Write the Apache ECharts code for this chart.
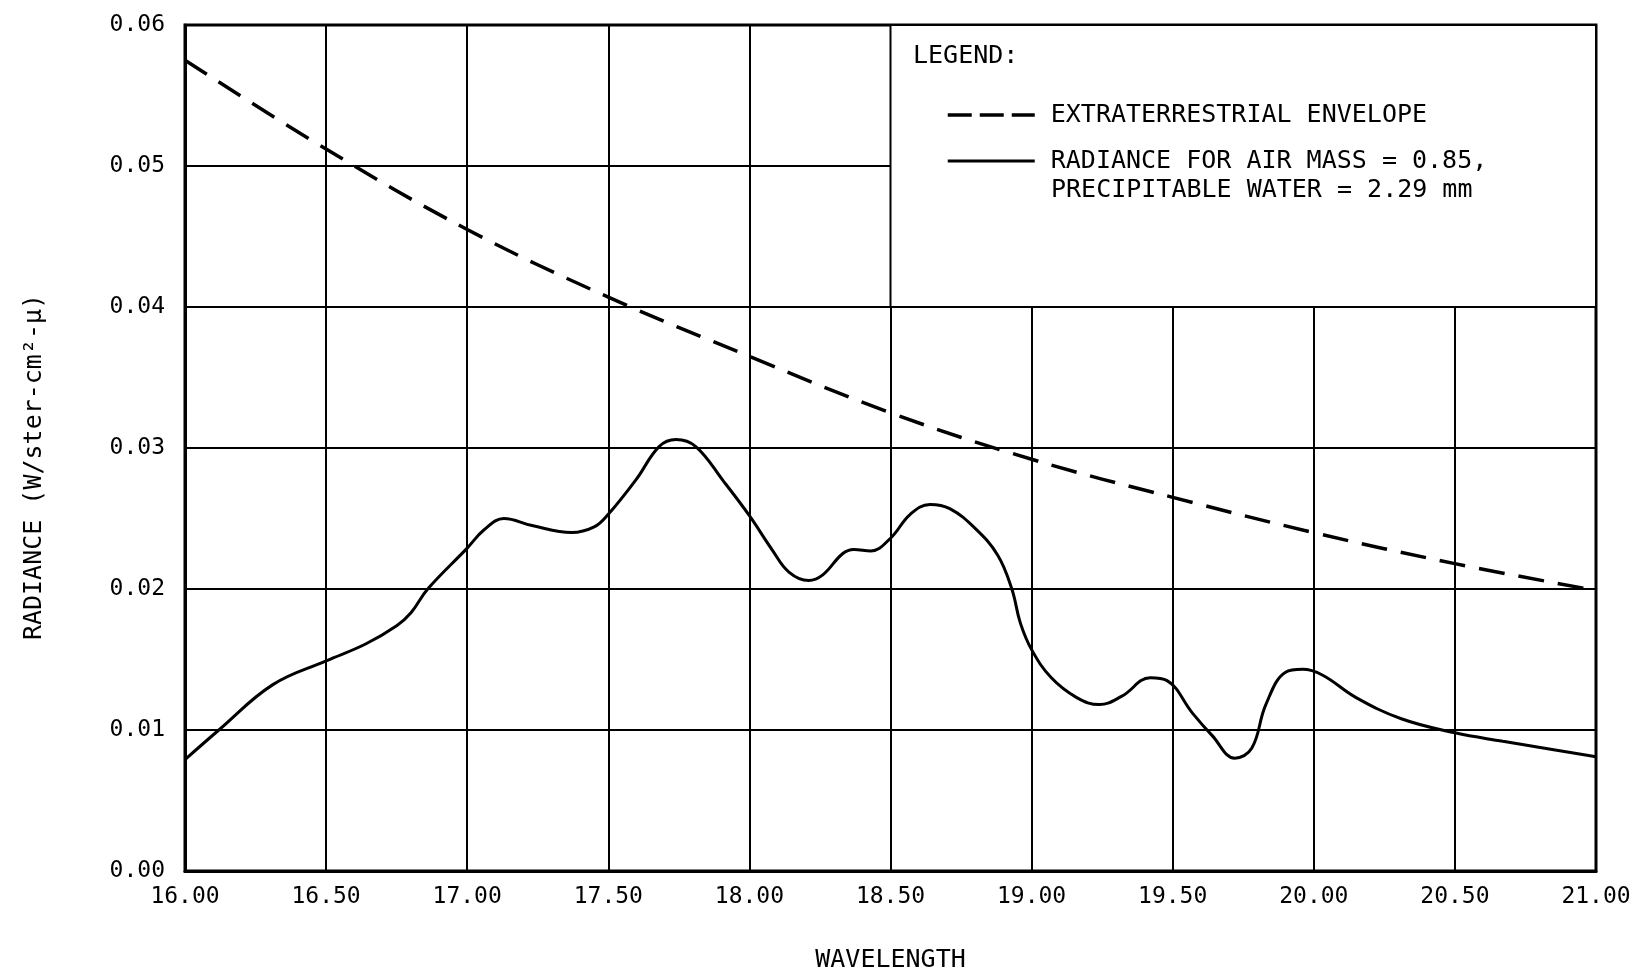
<!DOCTYPE html>
<html>
<head>
<meta charset="utf-8">
<script src="https://cdn.jsdelivr.net/npm/echarts@6/dist/echarts.min.js"></script>
<style>
html,body{margin:0;padding:0;background:#fff;}
#chart{width:1637px;height:978px;}
</style>
</head>
<body>
<div id="chart"></div>
<script>
// Radiance for air mass = 0.85, precipitable water = 2.29 mm
const wavelengthSolid = [16.00,16.12,16.31,16.50,16.64,16.75,16.80,16.86,17.00,17.06,17.13,17.23,17.37,17.45,17.50,17.60,17.68,17.74,17.81,17.91,18.00,18.08,18.14,18.21,18.26,18.33,18.37,18.43,18.50,18.57,18.64,18.71,18.80,18.88,18.93,18.96,19.00,19.07,19.16,19.24,19.32,19.42,19.48,19.57,19.64,19.72,19.78,19.83,19.90,19.96,20.03,20.15,20.31,20.50,20.67,20.85,21.00];
const radianceSolid = [0.0079,0.0100,0.0132,0.0149,0.0161,0.0174,0.0183,0.0200,0.0229,0.0242,0.0250,0.0245,0.0240,0.0244,0.0253,0.0278,0.0301,0.0306,0.0301,0.0276,0.0252,0.0228,0.0212,0.0206,0.0210,0.0225,0.0228,0.0227,0.0236,0.0253,0.0260,0.0257,0.0243,0.0224,0.0200,0.0176,0.0157,0.0137,0.0123,0.0118,0.0124,0.0137,0.0135,0.0112,0.0096,0.0080,0.0087,0.0118,0.0141,0.0143,0.0139,0.0123,0.0108,0.0098,0.0092,0.0086,0.0081];
// Extraterrestrial envelope
const wavelengthEnv = [16.0,16.5,17.0,17.5,18.0,18.5,19.0,19.5,20.0,20.5,21.0];
const radianceEnv = [0.0575,0.0512,0.0455,0.0407,0.0365,0.0325,0.0292,0.0265,0.0240,0.0218,0.0199];
// Axes
const xMin = 16, xMax = 21, xStep = 0.5;
const yMin = 0, yMax = 0.06, yStep = 0.01;
// Legend box extent (data coords)
const legendBox = [[18.5, 0.06], [21, 0.04]];
const envName = 'EXTRATERRESTRIAL ENVELOPE';
const solidName = 'RADIANCE FOR AIR MASS = 0.85,';
const solidName2 = 'PRECIPITABLE WATER = 2.29 mm';

const FONT = 'DejaVu Sans Mono';
const chart = echarts.init(document.getElementById('chart'), null, {renderer: 'canvas'});
const zip = (a, b) => a.map((v, i) => [v, b[i]]);

chart.setOption({
  animation: false,
  backgroundColor: '#fff',
  grid: {left: 185, right: 41, top: 25, bottom: 107, containLabel: false, outerBoundsMode: 'none',
         show: true, borderColor: '#000', borderWidth: 3, backgroundColor: 'transparent'},
  xAxis: {
    type: 'value', min: xMin, max: xMax, interval: xStep,
    name: 'WAVELENGTH', nameLocation: 'middle', nameGap: 77,
    nameTextStyle: {fontFamily: FONT, fontSize: 25, color: '#000'},
    axisLine: {show: true, onZero: false, lineStyle: {color: '#000', width: 3}},
    axisTick: {show: false},
    axisLabel: {fontFamily: FONT, fontSize: 23, color: '#000', margin: 15, formatter: v => v.toFixed(2)},
    splitLine: {show: true, lineStyle: {color: '#000', width: 2}}
  },
  yAxis: {
    type: 'value', min: yMin, max: yMax, interval: yStep,
    name: 'RADIANCE (W/ster-cm²-μ)', nameLocation: 'middle', nameGap: 138, nameRotate: 90,
    nameTextStyle: {fontFamily: FONT, fontSize: 25, color: '#000', padding: [0, 38, 0, 0]},
    axisLine: {show: true, onZero: false, lineStyle: {color: '#000', width: 3}},
    axisTick: {show: false},
    axisLabel: {fontFamily: FONT, fontSize: 23, color: '#000', margin: 20, formatter: v => v.toFixed(2)},
    splitLine: {show: true, lineStyle: {color: '#000', width: 2}}
  },
  legend: {
    show: true, orient: 'vertical', left: 941, top: 96, z: 20,
    itemWidth: 87, itemHeight: 14, itemGap: 18, selectedMode: false,
    itemStyle: {color: 'transparent', borderColor: 'transparent', borderWidth: 0},
    textStyle: {fontFamily: FONT, fontSize: 25, color: '#000', lineHeight: 28, padding: [0, 0, 0, 11]},
    data: [
      {name: envName, lineStyle: {color: '#000', width: 3.5, type: [24, 8]}},
      {name: solidName, lineStyle: {color: '#000', width: 3, type: 'solid'}}
    ]
  },
  graphic: [
    {type: 'text', left: 913, top: 44, z: 100, style: {text: 'LEGEND:', fontFamily: FONT, fontSize: 25, fill: '#000'}},
    {type: 'text', left: 1051, top: 178, z: 100, style: {text: solidName2, fontFamily: FONT, fontSize: 25, fill: '#000'}}
  ],
  series: [
    {
      name: envName, type: 'line', data: zip(wavelengthEnv, radianceEnv),
      smooth: 0.4, symbol: 'none', showSymbol: false,
      lineStyle: {color: '#000', width: 3.5, type: [26, 14]},
      itemStyle: {color: '#000'},
      markArea: {
        silent: true,
        itemStyle: {color: '#fff', borderColor: '#000', borderWidth: 2},
        data: [[{coord: legendBox[0]}, {coord: legendBox[1]}]]
      },
      z: 3
    },
    {
      name: solidName, type: 'line', data: zip(wavelengthSolid, radianceSolid),
      smooth: 0.4, symbol: 'none', showSymbol: false,
      lineStyle: {color: '#000', width: 3},
      itemStyle: {color: '#000'},
      z: 4
    }
  ]
});
</script>
</body>
</html>
